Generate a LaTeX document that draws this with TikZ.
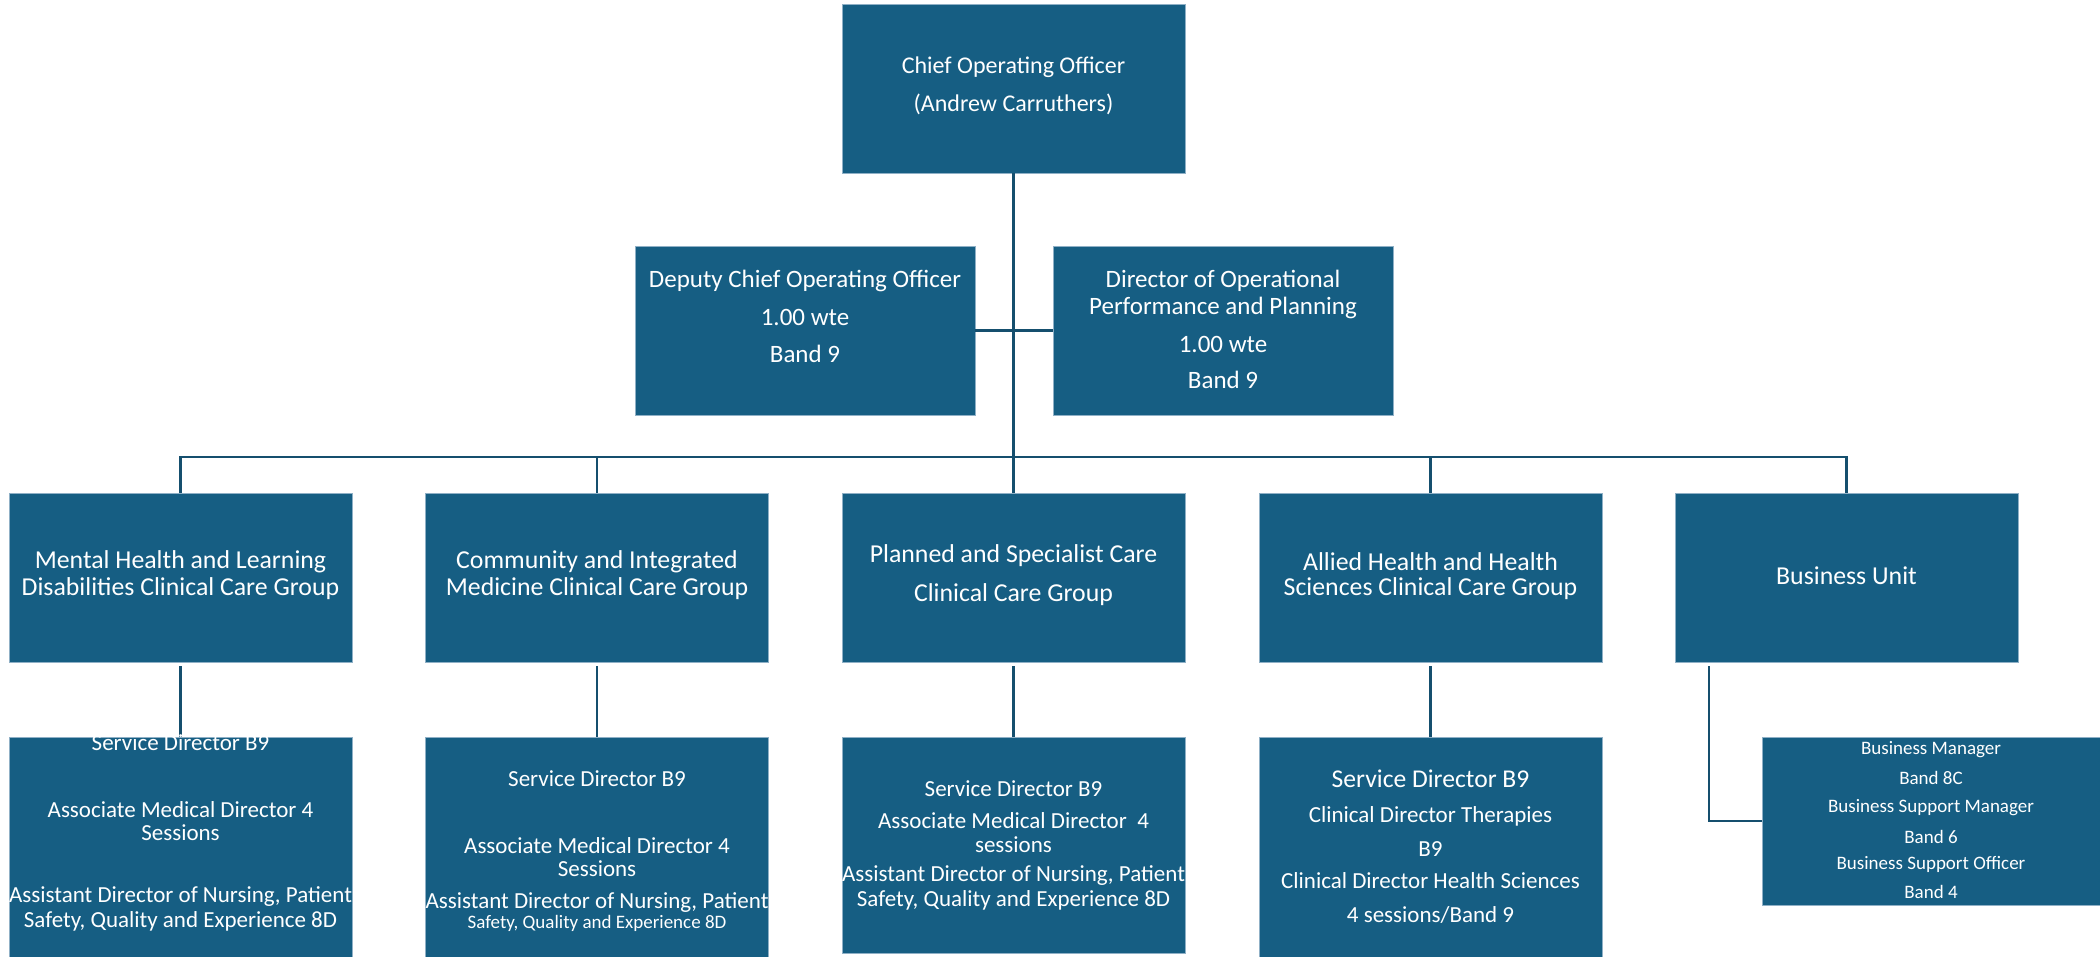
\documentclass[tikz,border=0pt]{standalone}
\usepackage{fontspec}
\setmainfont{Carlito}
\definecolor{boxblue}{HTML}{165E83}
\definecolor{linkblue}{HTML}{154F6E}
\definecolor{edgeblue}{HTML}{8FB0C6}
% font sizes used in the chart
\newcommand\fsT{\fontsize{12}{13}\selectfont}
\newcommand\fsM{\fontsize{12.5}{13}\selectfont}
\newcommand\fsG{\fontsize{12.9}{13}\selectfont}
\newcommand\fsR{\fontsize{11.5}{12}\selectfont}
\newcommand\fsS{\fontsize{9.5}{10}\selectfont}
\newcommand\fsL{\fontsize{12.8}{13}\selectfont}
% one text node per line: prefix, x, list of y/font/text
\newcommand\boxlines[3]{%
  \foreach \yy/\fnt/\lbl [count=\k] in {#3}
    \node[txt] (#1-\k) at (#2,\yy) {\fnt\lbl};}
\begin{document}
\begin{tikzpicture}[x=0.5pt,y=-0.5pt,
  box/.style={fill=boxblue, draw=edgeblue, line width=0.4pt, inner sep=0pt,
              minimum width=171.5pt, minimum height=84.5pt},
  txt/.style={text=white, inner sep=0pt, align=center},
  link/.style={draw=linkblue, line width=1.3pt}]
\useasboundingbox (0,0) rectangle (2100,957);

% boxes
\node[box] (coo) at (1013.5,88.5) {};
\node[box, minimum width=170pt] (dep) at (805,330.5) {};
\node[box, minimum width=170pt] (dir) at (1223,330.5) {};
\foreach \n/\x in {g1/180.5, g2/597, g3/1013.5, g4/1430.5, g5/1846.5}
  \node[box] (\n) at (\x,577.5) {};
\node[box, minimum height=110pt] (s1) at (180.5,847) {};
\node[box, minimum height=110pt] (s2) at (597,847) {};
\node[box, minimum height=108pt] (s3) at (1013.5,845) {};
\node[box, minimum height=110pt] (s4) at (1430.5,847) {};
\node[box, minimum width=169pt, minimum height=84pt] (s5) at (1931,821) {};

% connectors
\coordinate (hub) at (1013.5,457);
\draw[link] (coo.south) -- (hub);
\draw[link] (dep.east) -- (dir.west);
\draw[link] (g1.north) |- (hub) -| (g5.north);
\foreach \g in {g2,g3,g4} \draw[link] (\g.north) -- (\g.north |- hub);
\foreach \i in {1,...,4} \draw[link, shorten <=2pt] (g\i.south) -- (s\i.north);
\draw[link, shorten <=2pt] ([xshift=-68.75pt]g5.south) |- (s5.west);

% texts
\boxlines{coo}{1013.5}{67/\fsT/{Chief Operating Officer}, 104/\fsT/{(Andrew Carruthers)}}
\boxlines{dep}{805}{281/\fsM/{Deputy Chief Operating Officer}, 317/\fsM/{1.00 wte}, 354/\fsM/{Band 9}}
\boxlines{dir}{1223}{281/\fsM/{Director of Operational}, 308/\fsM/{Performance and Planning},
  344/\fsM/{1.00 wte}, 380/\fsM/{Band 9}}
\boxlines{g1}{180.5}{562/\fsG/{Mental Health and Learning}, 589/\fsG/{Disabilities Clinical Care Group}}
\boxlines{g2}{597}{562/\fsG/{Community and Integrated}, 589/\fsG/{Medicine Clinical Care Group}}
\boxlines{g3}{1013.5}{556/\fsG/{Planned and Specialist Care}, 595/\fsG/{Clinical Care Group}}
\boxlines{g4}{1430.5}{562/\fsG/{Allied Health and Health}, 589/\fsG/{Sciences Clinical Care Group}}
\boxlines{g5}{1846.5}{576/\fsG/{Business Unit}}
\boxlines{s1}{180.5}{743/\fsR/{Service Director B9}, 810/\fsR/{Associate Medical Director 4},
  833/\fsR/{Sessions}, 897/\fsR/{Assistant Director of Nursing, Patient},
  921/\fsR/{Safety, Quality and Experience 8D}}
\boxlines{s2}{597}{779/\fsR/{Service Director B9}, 846/\fsR/{Associate Medical Director 4},
  869/\fsR/{Sessions}, 903/\fsR/{Assistant Director of Nursing, Patient},
  923/\fsS/{Safety, Quality and Experience 8D}}
\boxlines{s3}{1013.5}{789/\fsR/{Service Director B9}, 821/\fsR/{Associate Medical Director\ \ 4},
  845/\fsR/{sessions}, 876/\fsR/{Assistant Director of Nursing, Patient},
  900/\fsR/{Safety, Quality and Experience 8D}}
\boxlines{s4}{1430.5}{779/\fsL/{Service Director B9}, 816/\fsR/{Clinical Director Therapies},
  849/\fsR/{B9}, 881/\fsR/{Clinical Director Health Sciences}, 915/\fsR/{4 sessions/Band 9}}
\boxlines{s5}{1931}{750/\fsS/{Business Manager}, 778/\fsS/{Band 8C},
  808/\fsS/{Business Support Manager}, 837/\fsS/{Band 6},
  864/\fsS/{Business Support Officer}, 892/\fsS/{Band 4}}
\end{tikzpicture}
\end{document}
